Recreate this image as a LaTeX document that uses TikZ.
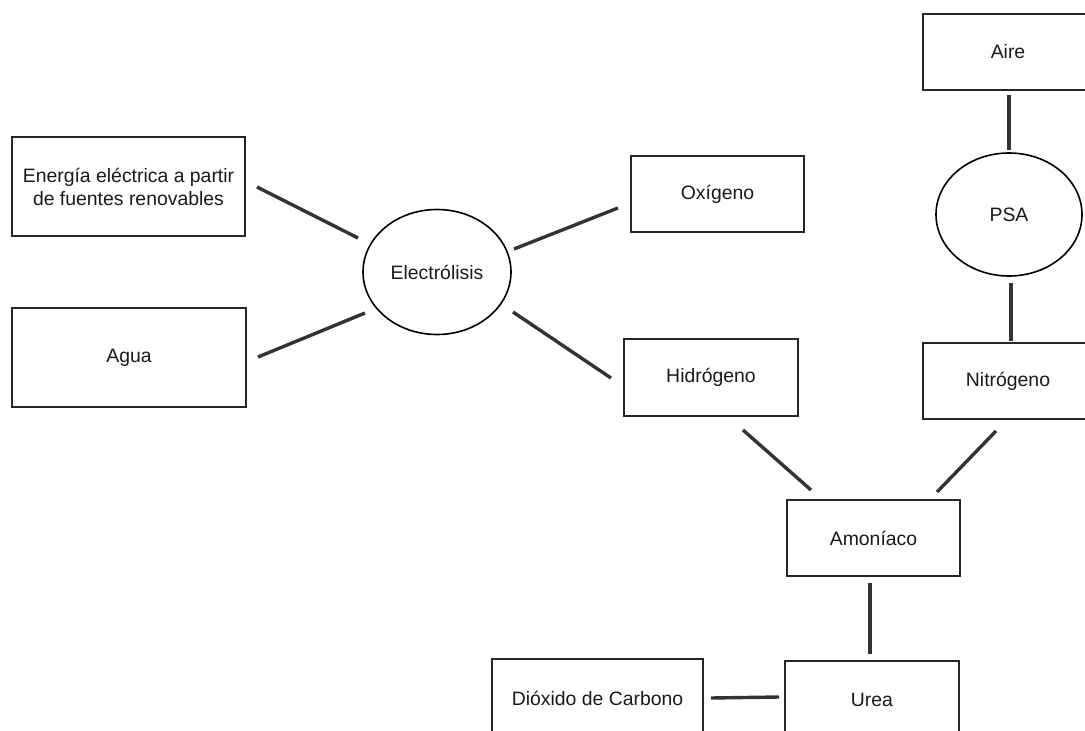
\documentclass[tikz,border=0pt]{standalone}
\usepackage{fontspec}
\setmainfont{Liberation Sans}
\usetikzlibrary{shapes.geometric}
\definecolor{edgegray}{HTML}{333333}
\begin{document}
\begin{tikzpicture}[x=1pt,y=-1pt,
  every node/.style={font=\fontsize{19.4}{23}\selectfont, text=black!90},
  box/.style={draw=black!85, line width=1.3pt, rectangle, inner sep=0pt, align=center},
  oval/.style={draw=black, line width=1.6pt, ellipse, inner sep=0pt},
  link/.style={draw=edgegray, line width=3.4pt}]
\useasboundingbox (0,0) rectangle (1085,731);
\clip (0,0) rectangle (1085,731);
% nodes
\node[box, minimum width=233pt, minimum height=99pt] (energia) at (128.5,186.5) {Energía eléctrica a partir\\de fuentes renovables};
\node[box, minimum width=234pt, minimum height=99pt] (agua) at (129,357.5) {Agua};
\node[oval, minimum width=148pt, minimum height=125pt] (electro) at (437,272) {Electrólisis};
\node[box, minimum width=173pt, minimum height=76pt] (oxi) at (717.5,194) {Oxígeno};
\node[box, minimum width=174pt, minimum height=77pt] (hidro) at (711,377.5) {Hidrógeno};
\node[box, minimum width=170pt, minimum height=76pt] (aire) at (1008,52) {Aire};
\node[oval, minimum width=146pt, minimum height=123pt] (psa) at (1009,214.5) {PSA};
\node[box, minimum width=170pt, minimum height=76pt] (nitro) at (1008,381) {Nitrógeno};
\node[box, minimum width=173pt, minimum height=76pt] (amon) at (873.5,538) {Amoníaco};
\node[box, minimum width=211pt, minimum height=78pt] (dioxido) at (597.5,698) {Dióxido de Carbono};
\node[box, minimum width=174pt, minimum height=78pt] (urea) at (872,700) {Urea};
% connector end points
\coordinate (e1a) at (257,187);  \coordinate (e1b) at (358,238);
\coordinate (e2a) at (258,357);  \coordinate (e2b) at (365,313);
\coordinate (e3a) at (514,249);  \coordinate (e3b) at (618,208);
\coordinate (e4a) at (513,312);  \coordinate (e4b) at (611,378);
\coordinate (e5a) at (743,430);  \coordinate (e5b) at (811,490);
\coordinate (e6a) at (996,431);  \coordinate (e6b) at (937,492);
\coordinate (e7a) at (1009,95);  \coordinate (e7b) at (1009,150);
\coordinate (e8a) at (1011,283); \coordinate (e8b) at (1011,341);
\coordinate (e9a) at (870,583);  \coordinate (e9b) at (870,654);
\coordinate (e10a) at (711,698); \coordinate (e10b) at (779,697);
% connectors
\draw[link] (e1a) -- (e1b);
\draw[link] (e2a) -- (e2b);
\draw[link] (e3a) -- (e3b);
\draw[link] (e4a) -- (e4b);
\draw[link] (e5a) -- (e5b);
\draw[link] (e6a) -- (e6b);
\draw[link] (e7a) -- (e7b);
\draw[link] (e8a) -- (e8b);
\draw[link] (e9a) -- (e9b);
\draw[link] (e10a) -- (e10b);
\end{tikzpicture}
\end{document}
